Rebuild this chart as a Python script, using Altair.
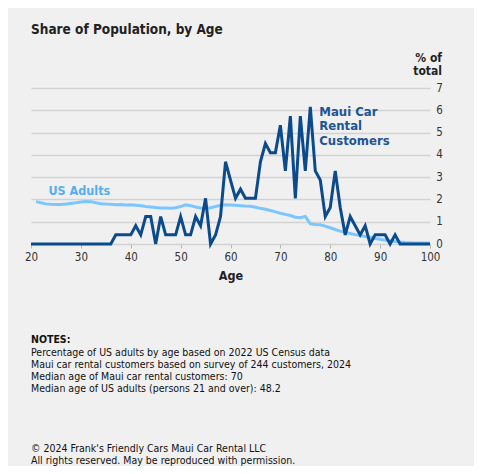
import altair as alt
import pandas as pd

# ---- data ----
ages = list(range(20, 101))

maui_pct = [
    0, 0, 0, 0, 0, 0, 0, 0, 0, 0,            # 20-29
    0, 0, 0, 0, 0, 0, 0, 0.41, 0.41, 0.41,   # 30-39
    0.41, 0.82, 0.41, 1.23, 1.23, 0, 1.23, 0.41, 0.41, 0.41,   # 40-49
    1.23, 0.41, 0.41, 1.23, 0.82, 2.05, 0, 0.41, 1.23, 3.69,   # 50-59
    2.87, 2.05, 2.46, 2.05, 2.05, 2.05, 3.69, 4.51, 4.10, 4.10,  # 60-69
    5.33, 3.28, 5.74, 2.05, 5.74, 3.28, 6.15, 3.28, 2.87, 1.23,  # 70-79
    1.64, 3.28, 1.64, 0.41, 1.23, 0.82, 0.41, 0.82, 0, 0.41,     # 80-89
    0.41, 0.41, 0, 0.41, 0, 0, 0, 0, 0, 0,                       # 90-99
    0,                                                           # 100
]

us_ages = list(range(21, 101))
us_pct = [
    1.90, 1.85, 1.80, 1.78, 1.77, 1.77, 1.79, 1.82, 1.85,        # 21-29
    1.88, 1.91, 1.90, 1.85, 1.81, 1.79, 1.78, 1.76, 1.77, 1.75,  # 30-39
    1.76, 1.74, 1.72, 1.68, 1.66, 1.64, 1.62, 1.62, 1.60, 1.63,  # 40-49
    1.68, 1.76, 1.72, 1.66, 1.62, 1.60, 1.63, 1.68, 1.74, 1.76,  # 50-59
    1.75, 1.74, 1.72, 1.70, 1.69, 1.65, 1.60, 1.56, 1.50, 1.44,  # 60-69
    1.38, 1.33, 1.28, 1.20, 1.18, 1.24, 0.90, 0.87, 0.86, 0.80,  # 70-79
    0.73, 0.65, 0.58, 0.52, 0.47, 0.42, 0.38, 0.34, 0.30, 0.25,  # 80-89
    0.21, 0.17, 0.14, 0.11, 0.09, 0.07, 0.06, 0.05, 0.05, 0.04,  # 90-99
    0.04,                                                        # 100
]

x_ticks = [20, 30, 40, 50, 60, 70, 80, 90, 100]
y_ticks = [0, 1, 2, 3, 4, 5, 6, 7]

series_labels = ["US Adults", "Maui Car Rental Customers"]
label_age = [23.5, 77.8]
label_val = [2.38, 5.93]

title_text = "Share of Population, by Age"
y_title = ["% of", "total"]
notes_head = "NOTES:"
notes_lines = [
    "Percentage of US adults by age based on 2022 US Census data",
    "Maui car rental customers based on survey of 244 customers, 2024",
    "Median age of Maui car rental customers: 70",
    "Median age of US adults (persons 21 and over): 48.2",
]
footer_lines = [
    "\u00a9 2024 Frank's Friendly Cars Maui Car Rental LLC",
    "All rights reserved. May be reproduced with permission.",
]

FONT = "DejaVu Sans Condensed, DejaVu Sans, sans-serif"
DARK = "#0b4a8b"
LIGHT = "#7cc6ff"

maui_df = pd.DataFrame({"age": ages, "pct": maui_pct})
us_df = pd.DataFrame({"age": us_ages, "pct": us_pct})
us_lab_df = pd.DataFrame({"age": [label_age[0]], "pct": [label_val[0]], "t": [series_labels[0]]})
maui_lab_df = pd.DataFrame({"age": [label_age[1]], "pct": [label_val[1]]})
one = pd.DataFrame({"k": [0]})

xs = alt.Scale(domain=[20, 100], nice=False, zero=False)
ys = alt.Scale(domain=[0, 7], nice=False)

x_axis = alt.Axis(values=x_ticks, title="Age", grid=False, domain=False,
                  ticks=True, tickSize=4, tickColor="#b8b8b8", tickWidth=1,
                  labelFlush=False, labelOverlap=False,
                  labelFont=FONT, labelFontSize=11.5, labelColor="#333333",
                  labelPadding=3, titleFont=FONT, titleFontSize=12.5,
                  titleFontWeight="bold", titleColor="#222222", titlePadding=7)
y_axis = alt.Axis(values=y_ticks, orient="right", title=None, grid=True,
                  gridColor="#d2d2d2", gridWidth=1.5, domain=False, ticks=False,
                  labelOverlap=False, labelFlush=False,
                  labelFont=FONT, labelFontSize=11.5, labelColor="#333333",
                  labelPadding=9, labelAlign="center")

X = alt.X("age:Q", scale=xs, axis=x_axis)
Y = alt.Y("pct:Q", scale=ys, axis=y_axis)

us_line = alt.Chart(us_df).mark_line(color=LIGHT, strokeWidth=3).encode(x=X, y=Y)
maui_line = alt.Chart(maui_df).mark_line(color=DARK, strokeWidth=3).encode(x=X, y=Y)

us_lab = alt.Chart(us_lab_df).mark_text(
    font=FONT, fontSize=12.5, fontWeight="bold", color="#55aef2", align="left", baseline="middle"
).encode(x=X, y=Y, text="t:N")

maui_lab = alt.Chart(maui_lab_df).mark_text(
    font=FONT, fontSize=13, fontWeight="bold", color="#1d5595", align="left",
    baseline="middle", lineHeight=14.5
).encode(x=X, y=Y, text=alt.value(["Maui Car", "Rental", "Customers"]))

title = alt.Chart(one).mark_text(
    font=FONT, fontSize=13.5, fontWeight="bold", color="#222222", align="left", baseline="middle"
).encode(x=alt.value(0), y=alt.value(-58), text=alt.value(title_text))

ytitle = alt.Chart(one).mark_text(
    font=FONT, fontSize=12, fontWeight="bold", color="#222222", align="right",
    baseline="middle", lineHeight=13
).encode(x=alt.value(411), y=alt.value(-30), text=alt.value(y_title))

notes_h = alt.Chart(one).mark_text(
    font=FONT, fontSize=10.5, fontWeight="bold", color="#111111", align="left", baseline="middle"
).encode(x=alt.value(0), y=alt.value(252), text=alt.value(notes_head))

notes_b = alt.Chart(one).mark_text(
    font=FONT, fontSize=10.5, color="#111111", align="left", baseline="middle", lineHeight=12
).encode(x=alt.value(0), y=alt.value(265), text=alt.value(notes_lines))

footer = alt.Chart(one).mark_text(
    font=FONT, fontSize=10.5, color="#111111", align="left", baseline="middle", lineHeight=12
).encode(x=alt.value(0), y=alt.value(361), text=alt.value(footer_lines))

chart = alt.layer(
    us_line, maui_line, us_lab, maui_lab, title, ytitle, notes_h, notes_b, footer
).properties(
    width=399, height=156,
    autosize=alt.AutoSizeParams(type="none"),
    padding={"left": 23, "top": 80, "right": 44, "bottom": 222},
    background="#f0f0f0",
).configure_view(stroke=None)

chart.save("out.html", embed_options={"renderer": "svg", "actions": False})
